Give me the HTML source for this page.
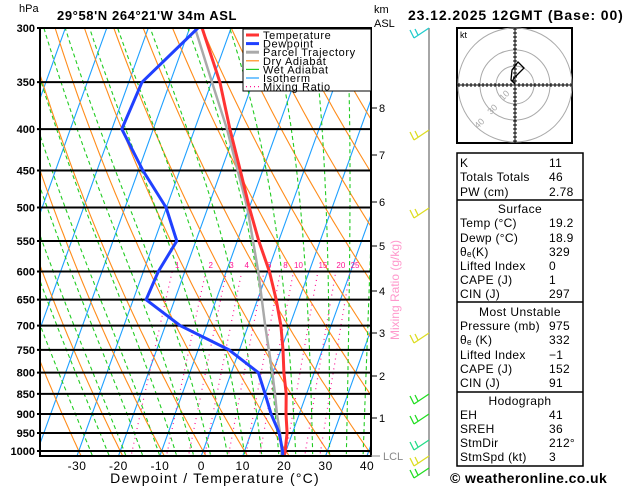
<!DOCTYPE html>
<html><head><meta charset="utf-8">
<style>
body{margin:0;background:#fff;width:629px;height:486px;overflow:hidden;font-family:"Liberation Sans",sans-serif}
svg{display:block}
text{font-family:"Liberation Sans",sans-serif}
</style></head>
<body>
<svg id="c" width="629" height="486" viewBox="0 0 629 486">
<defs><clipPath id="pa"><rect x="40" y="28" width="331" height="428"/></clipPath></defs>
<g id="bg" clip-path="url(#pa)"></g>
<g id="iso"></g>
<g id="prof" clip-path="url(#pa)"></g>
<rect x="40" y="28" width="331" height="428" fill="none" stroke="#000" stroke-width="2"/>
<g id="ax"></g>
<text x="19" y="12" font-size="11">hPa</text>
<text x="57" y="20" font-size="13" font-weight="bold" letter-spacing="0.6">29°58'N  264°21'W  34m  ASL</text>
<text x="374" y="13" font-size="11">km</text>
<text x="374" y="27" font-size="11">ASL</text>
<text x="408" y="20" font-size="14" font-weight="bold" letter-spacing="0.9">23.12.2025  12GMT  (Base: 00)</text>
<text x="215" y="483" font-size="14" text-anchor="middle" letter-spacing="1.2">Dewpoint / Temperature (°C)</text>
<text transform="translate(399,290) rotate(-90)" font-size="12" fill="#ff99cc" text-anchor="middle">Mixing Ratio (g/kg)</text>
<text x="383" y="460" font-size="11" fill="#888">LCL</text>
<g id="leg">
<rect x="243" y="29" width="128" height="62" fill="#fff" stroke="#000"/>
</g>
<g id="barbs"></g>
<g id="hodo"></g>
<g id="tbl"></g>
<text x="450" y="483" font-size="14" font-weight="bold" letter-spacing="0.4">© weatheronline.co.uk</text>
</svg>
<script>
const pressureLevels=[300,350,400,450,500,550,600,650,700,750,800,850,900,950,1000];
const tempTicks=[-30,-20,-10,0,10,20,30,40];
const kmTicks=[1,2,3,4,5,6,7,8];
const kmY=[418,376,333,291,246,202,155,108];
const mixRatios=[1,2,3,4,6,8,10,15,20,25];
const profP=[1013,1000,950,900,850,800,750,700,650,600,550,500,450,400,350,300];
const tempC=[20,19.8,18.7,16.8,15.1,12.7,10.5,7.9,4.5,0.4,-4.8,-10,-15.4,-21.5,-28,-37];
const dewC=[19.6,19.2,16.8,13.2,10,6.5,-2.5,-16.4,-26.9,-26.4,-24.6,-30.1,-38.9,-47.6,-46.8,-38];
const parcelP=[1013,1000,950,900,850,800,700,600,500,400,350,300];
const parcelC=[19.3,19,17,14.6,12.4,9.9,4.1,-2.3,-10.5,-22.2,-29.9,-38.7];

const NS='http://www.w3.org/2000/svg';
function mk(parent,tag,at,name){const e=document.createElementNS(NS,tag);for(const k in at)e.setAttribute(k,at[k]);


document.getElementById(parent).appendChild(e);return e;}
const yP=p=>28+Math.log(p/300)/Math.log(1000/300)*423;
const xT=(t,p)=>201.3+4.143*t+0.36*(456-yP(p));
function path(pts){return pts.map((q,i)=>(i?'L':'M')+q[0].toFixed(1)+','+q[1].toFixed(1)).join('');}
const pr=[];for(let p=1050;p>=280;p-=10)pr.push(p);
for(let t=-120;t<=40;t+=10){mk('bg','path',{d:path([[xT(t,1050),yP(1050)],[xT(t,280),yP(280)]]),stroke:'#1ea0ff','stroke-width':1.1,fill:'none'},'isotherm');}
for(let th=-30;th<=220;th+=10){const pts=pr.map(p=>{const T=(th+273.15)*Math.pow(p/1000,0.286)-273.15;return[xT(T,p),yP(p)];});
mk('bg','path',{d:path(pts),stroke:'#ff8c1a','stroke-width':1.1,fill:'none'},'dry-adiabat');}
function rs(T,p){const e=6.112*Math.exp(17.67*T/(T+243.5));return 0.622*e/(p-e);}
for(let t0=-24;t0<=44;t0+=4){let T=t0,pts=[[xT(T,1050),yP(1050)]];
for(let p=1050;p>280;p-=5){const Tk=T+273.15,r=rs(T,p);const d=(287*Tk+2.5e6*r)/(p*(1004+2.5e6*2.5e6*r*0.622/(287*Tk*Tk)));T-=d*5;pts.push([xT(T,p-5),yP(p-5)]);}
mk('bg','path',{d:path(pts),stroke:'#22cc22','stroke-width':1.1,fill:'none','stroke-dasharray':'4,3'},'wet-adiabat');}
function tdW(w,p){const e=w*p/(622+w);const l=Math.log(e/6.112);return 243.5*l/(17.67-l);}
mixRatios.forEach(w=>{const pts=[];for(let p=1050;p>=600;p-=10)pts.push([xT(tdW(w,p),p),yP(p)]);
mk('bg','path',{d:path(pts),stroke:'#ff1493','stroke-width':1.2,fill:'none','stroke-dasharray':'1,4'},'mixing-ratio-line');
const t=mk('iso','text',{x:xT(tdW(w,600),600)+5,y:268,'font-size':8,fill:'#ff1493','text-anchor':'middle'},'mixing-ratio-label');t.textContent=w;});
pressureLevels.forEach(p=>{const y=yP(p);mk('iso','line',{x1:37,x2:371,y1:y,y2:y,stroke:'#000','stroke-width':2},'pressure-line');
const t=mk('ax','text',{x:35,y:y+4,'font-size':11,'font-weight':'bold','text-anchor':'end'},'pressure-label');t.textContent=p;});
tempTicks.forEach(t=>{const x=201.3+4.143*t;const e=mk('ax','text',{x:x,y:470,'font-size':12,'text-anchor':'middle','letter-spacing':'0.5'},'temperature-tick-label');e.textContent=t;});
kmTicks.forEach((k,i)=>{mk('ax','line',{x1:371,x2:377,y1:kmY[i],y2:kmY[i],stroke:'#000'},'km-tick');const e=mk('ax','text',{x:379,y:kmY[i]+4,'font-size':11},'km-label');e.textContent=k;});
mk('ax','line',{x1:371,x2:380,y1:456,y2:456,stroke:'#888'},'lcl-tick');
function prof(P,V,col,w,name){mk('prof','path',{d:path(P.map((p,i)=>[xT(V[i],p),yP(p)])),stroke:col,'stroke-width':w,fill:'none','stroke-linejoin':'round'},name);}
prof(parcelP,parcelC,'#aaaaaa',2.5,'parcel-trajectory');
prof(profP,tempC,'#ff3333',3,'temperature-line');
prof(profP,dewC,'#2040ff',3,'dewpoint-line');
const legItems=[['Temperature','#ff3333',3,''],['Dewpoint','#2040ff',3,''],['Parcel Trajectory','#aaaaaa',3,''],['Dry Adiabat','#ff8c1a',1.2,''],['Wet Adiabat','#22cc22',1.2,''],['Isotherm','#1ea0ff',1.2,''],['Mixing Ratio','#ff1493',1.2,'1,3']];
legItems.forEach((it,i)=>{const y=35+i*8.6;mk('leg','line',{x1:246,x2:259,y1:y,y2:y,stroke:it[1],'stroke-width':it[2],'stroke-dasharray':it[3]},'legend-swatch');
const t=mk('leg','text',{x:263,y:y+4,'font-size':11,'letter-spacing':'0.6'},'legend-entry');t.textContent=it[0];});
mk('barbs','line',{x1:429,x2:429,y1:28,y2:476,stroke:'#888','stroke-width':1.5},'barb-staff');
const barbs=[[28,'#22cccc'],[130,'#dddd22'],[208,'#dddd22'],[333,'#dddd22'],[394,'#22dd22'],[414,'#22dd22'],[440,'#22dd88'],[456,'#dddd22'],[468,'#22dd22']];
barbs.forEach(b=>{const y=b[0];mk('barbs','path',{d:'M429,'+y+' L414,'+(y+10)+' M414,'+(y+10)+' L410,'+(y+2)+' M418,'+(y+7)+' L415,'+(y+1),stroke:b[1],'stroke-width':1.3,fill:'none'},'wind-barb');});
mk('hodo','rect',{x:457,y:28,width:115,height:115,fill:'#fff',stroke:'#000','stroke-width':2},'hodograph-frame');
[19,35,57].forEach(r=>mk('hodo','circle',{cx:515,cy:85,r:r,fill:'none',stroke:'#aaa'},'hodograph-ring'));
mk('hodo','line',{x1:457,x2:572,y1:85,y2:85,stroke:'#000'},'hodograph-axis-x');
mk('hodo','line',{x1:515,x2:515,y1:28,y2:143,stroke:'#000'},'hodograph-axis-y');
for(let d=-56;d<=56;d+=4){if(!d)continue;mk('hodo','line',{x1:515+d,x2:515+d,y1:83,y2:87,stroke:'#000'},'hodograph-tick');mk('hodo','line',{x1:513,x2:517,y1:85+d,y2:85+d,stroke:'#000'},'hodograph-tick');}
mk('hodo','path',{d:'M515,84 L511,80 L512,70 L518,62 L524,68 L514,78 L512,82',stroke:'#000','stroke-width':1.3,fill:'none'},'hodograph-trace');
const kt=mk('hodo','text',{x:460,y:38,'font-size':9},'hodograph-unit');kt.textContent='kt';
[['10',503,101],['30',491,115],['40',478,129]].forEach(l=>{const e=mk('hodo','text',{x:l[1],y:l[2],'font-size':9,fill:'#aaa',transform:'rotate(-45 '+l[1]+' '+l[2]+')'},'hodograph-ring-label');e.textContent=l[0];});
mk('tbl','rect',{x:457,y:153,width:126,height:313,fill:'#fff',stroke:'#000','stroke-width':1.5},'table-frame');
[200,302,392].forEach(y=>mk('tbl','line',{x1:457,x2:583,y1:y,y2:y,stroke:'#000','stroke-width':1.5},'table-divider'));
const rows=[[167,'K','11'],[181,'Totals Totals','46'],[196,'PW (cm)','2.78'],[213,'Surface',null],[227,'Temp (°C)','19.2'],[242,'Dewp (°C)','18.9'],[256,'θₑ(K)','329'],[270,'Lifted Index','0'],[284,'CAPE (J)','1'],[298,'CIN (J)','297'],[316,'Most Unstable',null],[330,'Pressure (mb)','975'],[344,'θₑ (K)','332'],[359,'Lifted Index','−1'],[373,'CAPE (J)','152'],[387,'CIN (J)','91'],[405,'Hodograph',null],[419,'EH','41'],[433,'SREH','36'],[447,'StmDir','212°'],[461,'StmSpd (kt)','3']];
rows.forEach(r=>{if(r[2]===null){const e=mk('tbl','text',{x:520,y:r[0],'font-size':12,'text-anchor':'middle','letter-spacing':'0.4'},'table-section-title');e.textContent=r[1];}
else{const a=mk('tbl','text',{x:460,y:r[0],'font-size':12,'letter-spacing':'0.3'},'table-label');a.textContent=r[1];const b=mk('tbl','text',{x:549,y:r[0],'font-size':12,'letter-spacing':'0.3'},'table-value');b.textContent=r[2];}});
</script>
</body></html>
